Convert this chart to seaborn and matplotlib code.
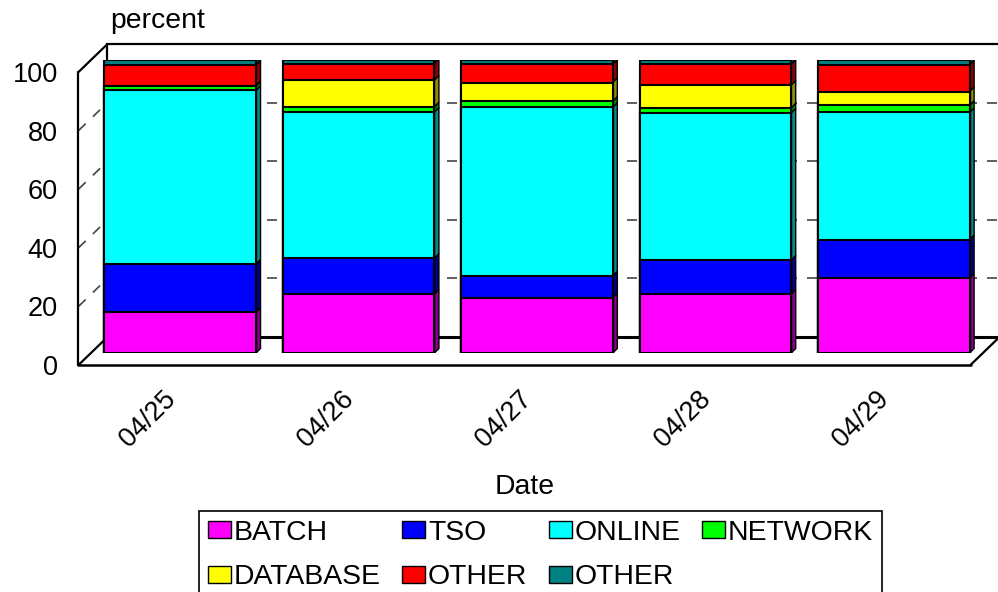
import numpy as np
import matplotlib
matplotlib.use("Agg")
import matplotlib.pyplot as plt
import seaborn as sns
from matplotlib.patches import Patch, Polygon
from matplotlib.lines import Line2D
from matplotlib.transforms import ScaledTranslation

# ---------------- data ----------------
dates = ["04/25", "04/26", "04/27", "04/28", "04/29"]
series_names = ["BATCH", "TSO", "ONLINE", "NETWORK", "DATABASE", "OTHER", "OTHER"]
batch = [13.9, 20.1, 18.9, 20.1, 25.6]
tso = [16.4, 12.2, 7.4, 11.6, 13.1]
online = [59.3, 49.9, 57.5, 50.2, 43.4]
network = [1.5, 1.8, 2.1, 1.7, 2.4]
database = [0.0, 9.1, 6.4, 7.8, 4.7]
other = [7.2, 5.7, 6.3, 7.2, 9.1]
other2 = [1.7, 1.2, 1.4, 1.4, 1.7]
series_colors = ["#FF00FF", "#0000FF", "#00FFFF", "#00FF00", "#FFFF00", "#FF0000", "#008080"]
yticks = [0, 20, 40, 60, 80, 100]
ylabel_text = "percent"
xlabel_text = "Date"

# ---------------- style ----------------
sns.set_style("white")
plt.rcParams["font.family"] = ["Liberation Sans", "DejaVu Sans"]
for key in ["text.color", "axes.labelcolor", "xtick.color", "ytick.color"]:
    plt.rcParams[key] = "black"
FS_TICK = 19.5
FS_LABEL = 20.4
FS_LEG = 20.4

values = np.array([batch, tso, online, network, database, other, other2])
cum = np.cumsum(values, axis=0)

fig = plt.figure(figsize=(9.98, 5.92), dpi=100)
ax = fig.add_axes([91 / 998, 1 - 353 / 592, 892 / 998, 293 / 592])

# stacked bars: draw cumulative totals from top series to bottom series
for i in reversed(range(len(series_names))):
    sns.barplot(x=dates, y=cum[i], color=series_colors[i], saturation=1,
                width=0.85, edgecolor="black", linewidth=1.5, errorbar=None,
                ax=ax, zorder=3)

ax.set_xlim(-0.5, 4.5)
ax.set_ylim(0, 100)
for s in ax.spines.values():
    s.set_visible(False)
ax.grid(False)

# pixel -> data conversion helpers
p0 = ax.transData.transform((0, 0))
p1 = ax.transData.transform((1, 1))
sx = p1[0] - p0[0]
sy = p1[1] - p0[1]

def off(px, py):
    return px / sx, py / sy

# 3D faces for bars (derived from seaborn's patches)
n = len(series_names)
nb = len(dates)
patches = list(ax.patches)
depth = off(4.5, 4.5)

def darker(c, f=0.55):
    r, g, b = matplotlib.colors.to_rgb(c)
    return (r * f, g * f, b * f)

for k in range(n):
    i = n - 1 - k
    for j in range(nb):
        p = patches[k * nb + j]
        xl = p.get_x()
        xr = xl + p.get_width()
        y1 = p.get_height()
        y0 = patches[(k + 1) * nb + j].get_height() if i > 0 else 0.0
        if y1 - y0 > 1e-9:
            side = Polygon([(xr, y0), (xr + depth[0], y0 + depth[1]),
                            (xr + depth[0], y1 + depth[1]), (xr, y1)],
                           closed=True, facecolor=darker(series_colors[i]),
                           edgecolor="black", linewidth=1.0, zorder=2.9)
            ax.add_patch(side)
        if i == n - 1:
            top = Polygon([(xl, y1), (xl + depth[0], y1 + depth[1]),
                           (xr + depth[0], y1 + depth[1]), (xr, y1)],
                          closed=True, facecolor=series_colors[i],
                          edgecolor="black", linewidth=1.0, zorder=2.9)
            ax.add_patch(top)

# 3D box
xl, xr = ax.get_xlim()
fdx, fdy = off(-12.5, -12)
bdx, bdy = off(16.5, 16)

def seg(a, b, **kw):
    ax.add_line(Line2D([a[0], b[0]], [a[1], b[1]], clip_on=False, **kw))

solid = dict(color="black", linewidth=1.6, zorder=1)
seg((xl + bdx, 100 + bdy), (xr + bdx, 100 + bdy), **solid)
seg((xl + bdx, bdy), (xl + bdx, 100 + bdy), **solid)
seg((xl + bdx, bdy), (xr + bdx, bdy), color="black", linewidth=2.2, zorder=1)
seg((xl + fdx, fdy), (xl + fdx, 100 + fdy), color="black", linewidth=1.6, zorder=4)
seg((xl + fdx, fdy), (xr + fdx, fdy), color="black", linewidth=1.8, zorder=4)
seg((xl + fdx, 100 + fdy), (xl + bdx, 100 + bdy), **solid)
seg((xl + fdx, fdy), (xl + bdx, bdy), **solid)
seg((xr + fdx, fdy), (xr + bdx, bdy), **solid)
dash = dict(color="#444444", linewidth=1.2, linestyle=(0, (6, 6)), zorder=1)
for v in yticks[1:-1]:
    seg((xl + bdx, v + bdy), (xr + bdx, v + bdy), **dash)
    seg((xl + fdx, v + fdy), (xl + bdx, v + bdy), **dash)

# ticks
ax.set_yticks(yticks)
ax.set_yticklabels([str(t) for t in yticks])
ax.tick_params(axis="y", length=0, pad=24, labelsize=FS_TICK)
for lab in ax.get_yticklabels():
    lab.set_transform(lab.get_transform() + ScaledTranslation(0, -0.12, fig.dpi_scale_trans))

ax.set_xticks(range(len(dates)))
ax.set_xticklabels(dates, rotation=45, ha="right", rotation_mode="anchor")
ax.tick_params(axis="x", length=0, pad=24, labelsize=FS_TICK)
for lab in ax.get_xticklabels():
    lab.set_transform(lab.get_transform() + ScaledTranslation(-0.18, 0, fig.dpi_scale_trans))

ax.set_xlabel(xlabel_text, fontsize=FS_LABEL, va="center")
ax.xaxis.set_label_coords(0.4865, -0.457)
ax.set_ylabel(ylabel_text, fontsize=FS_LABEL, rotation=0, ha="left", va="baseline")
ax.yaxis.set_label_coords(0.0213, 1.109)

# legend (row-major order across 4 columns)
handles = [Patch(facecolor=c, edgecolor="black", linewidth=1.0) for c in series_colors]
order = [0, 4, 1, 5, 2, 6, 3]
leg = fig.legend([handles[o] for o in order], [series_names[o] for o in order],
                 loc="upper left", bbox_to_anchor=(199 / 998, 1 - 511 / 592),
                 ncol=4, frameon=True, fancybox=False, edgecolor="black",
                 framealpha=1, fontsize=FS_LEG, handlelength=0.82, handleheight=0.53,
                 handletextpad=0.1, columnspacing=0.75, borderpad=0.3,
                 labelspacing=0.66, borderaxespad=0)
leg.get_frame().set_linewidth(1.2)

fig.savefig("out.png", dpi=100)
